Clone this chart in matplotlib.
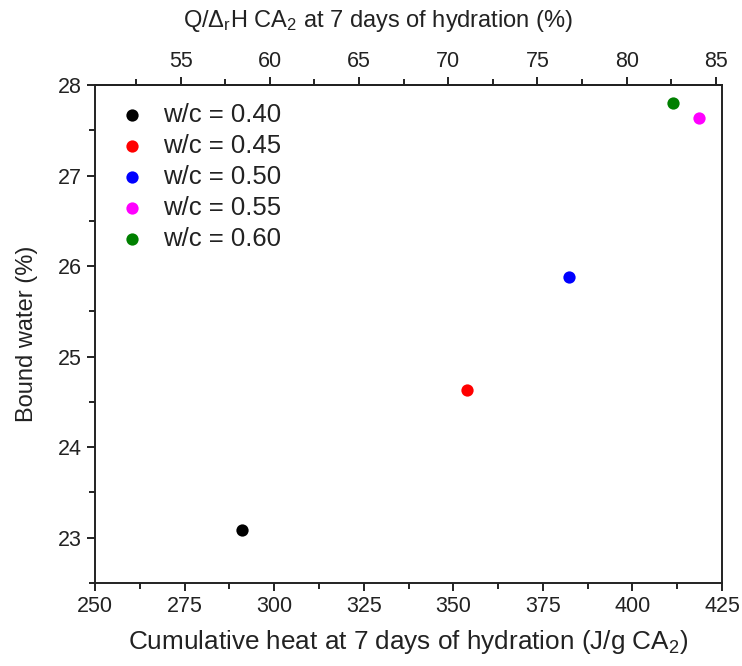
import matplotlib; matplotlib.use("Agg")
import matplotlib.pyplot as plt
from matplotlib.ticker import MultipleLocator, FixedLocator

# data
labels = ["w/c = 0.40", "w/c = 0.45", "w/c = 0.50", "w/c = 0.55", "w/c = 0.60"]
colors = ["black", "red", "blue", "magenta", "green"]
heat = [290.9, 353.7, 382.2, 418.7, 411.4]        # J/g CA2
bound_water = [23.08, 24.63, 25.88, 27.64, 27.80]  # %
DH = 4.98  # J/g per % of reaction (Q/ΔrH)
top_ticks = [55, 60, 65, 70, 75, 80, 85]

plt.rcParams["font.family"] = ["Liberation Sans", "DejaVu Sans"]
plt.rcParams["mathtext.fontset"] = "custom"
plt.rcParams["mathtext.rm"] = "Liberation Sans"
plt.rcParams["mathtext.it"] = "Liberation Sans:italic"
INK = "#222222"

fig = plt.figure(figsize=(7.42, 6.66), dpi=100)
ax = fig.add_axes([95/742, 1 - 583/666, 627/742, 498/666])

for x, y, c, lab in zip(heat, bound_water, colors, labels):
    ax.scatter(x, y, s=78, c=c, label=lab, linewidths=0, zorder=3)

ax.set_xlim(250, 425); ax.set_ylim(22.5, 28)
ax.xaxis.set_major_locator(MultipleLocator(25)); ax.xaxis.set_minor_locator(MultipleLocator(12.5))
ax.yaxis.set_major_locator(MultipleLocator(1)); ax.yaxis.set_minor_locator(MultipleLocator(0.5))
ax.tick_params(which="both", direction="out", width=1.4, labelsize=15.5, right=False, top=False,
               colors=INK)
ax.tick_params(which="major", length=6); ax.tick_params(which="minor", length=4)
for sp in ax.spines.values():
    sp.set_linewidth(1.4); sp.set_color(INK)
ax.set_xlabel("Cumulative heat at 7 days of hydration (J/g CA$_2$)", fontsize=18.8, labelpad=8,
              color=INK)
ax.set_ylabel("Bound water (%)", fontsize=17, labelpad=14, color=INK)

sec = ax.secondary_xaxis("top", functions=(lambda v: v / DH, lambda v: v * DH))
sec.xaxis.set_major_locator(FixedLocator(top_ticks)); sec.xaxis.set_minor_locator(MultipleLocator(2.5))
sec.tick_params(which="both", direction="out", width=1.4, labelsize=15.5, colors=INK)
sec.tick_params(which="major", length=6); sec.tick_params(which="minor", length=4)
sec.spines["top"].set_linewidth(1.4)
sec.set_xlabel("Q/$\\Delta_\\mathrm{r}$H CA$_2$ at 7 days of hydration (%)", fontsize=17,
               color=INK)
sec.xaxis.set_label_coords(0.451, 1.116, transform=ax.transAxes)

ax.legend(loc="upper left", bbox_to_anchor=(0.0, 1.0), frameon=False, fontsize=18.5,
          handletextpad=0.45, labelspacing=0.27, borderaxespad=0.3, markerscale=1.0,
          handlelength=1.5, labelcolor=INK)

fig.savefig("out.png", dpi=100)
